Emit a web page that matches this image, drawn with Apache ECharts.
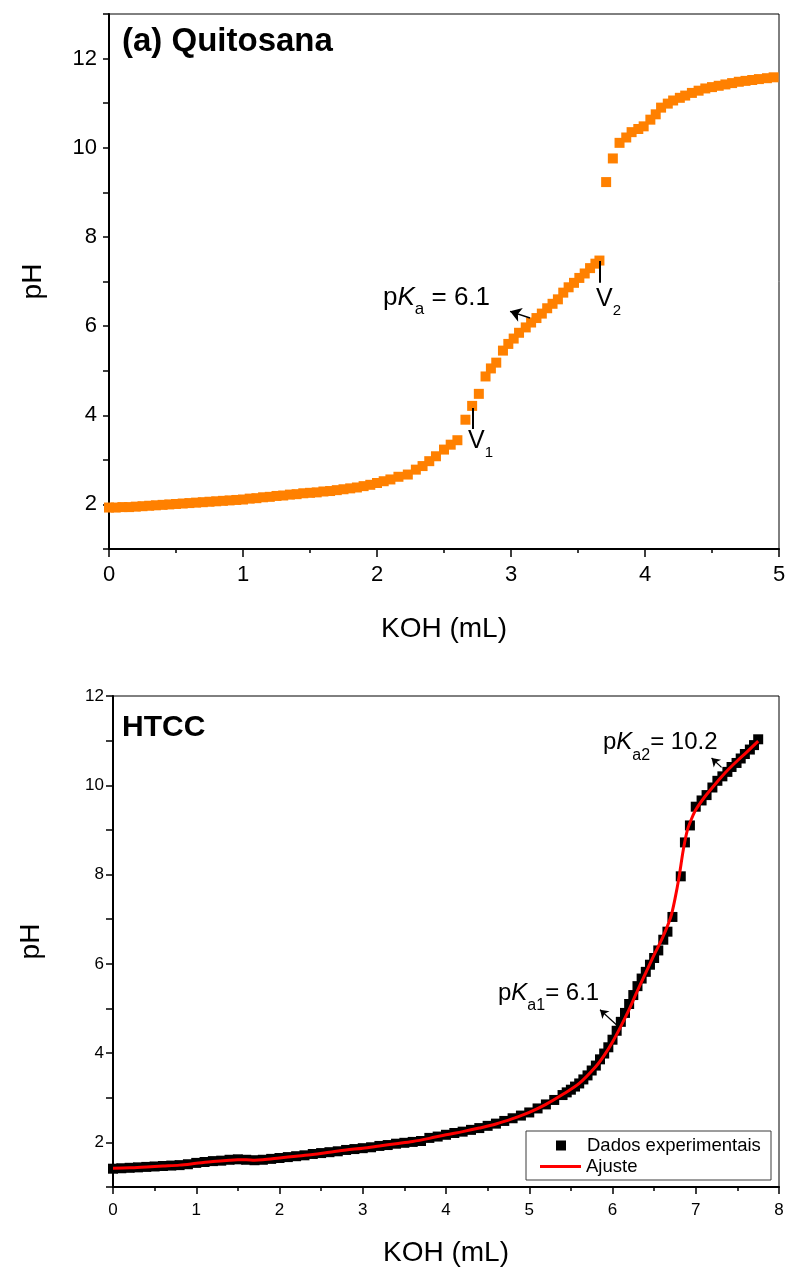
<!DOCTYPE html>
<html><head><meta charset="utf-8">
<style>html,body{margin:0;padding:0;background:#fff}#c{width:789px;height:1275px}</style>
<script src="https://cdn.jsdelivr.net/npm/echarts@6/dist/echarts.min.js"></script>
</head><body><div id="c"></div>
<script>
// ---- (a) Quitosana ----
const topKOH = [0.00,0.05,0.10,0.15,0.20,0.25,0.30,0.35,0.40,0.45,0.50,0.55,0.60,0.65,0.70,0.75,0.80,0.85,0.90,0.95,
  1.00,1.05,1.10,1.15,1.20,1.25,1.30,1.35,1.40,1.45,1.50,1.55,1.60,1.65,1.70,1.75,1.80,1.85,1.90,1.95,
  2.00,2.05,2.10,2.16,2.23,2.29,2.34,2.39,2.44,2.50,2.55,2.60,2.66,2.71,2.76,2.81,2.85,2.89,2.94,2.98,
  3.02,3.06,3.11,3.15,3.19,3.23,3.27,3.31,3.35,3.39,3.43,3.47,3.51,3.55,3.59,3.63,3.66,
  3.71,3.76,3.81,3.86,3.90,3.95,3.99,4.04,4.08,4.12,4.17,4.21,4.26,4.30,4.35,4.40,4.45,4.50,4.55,4.60,
  4.65,4.70,4.75,4.80,4.85,4.91,4.96];
const topPH = [1.93,1.93,1.94,1.94,1.95,1.96,1.97,1.98,1.99,2.00,2.01,2.02,2.03,2.04,2.05,2.06,2.07,2.08,2.09,2.10,
  2.11,2.13,2.14,2.16,2.17,2.19,2.20,2.22,2.23,2.25,2.26,2.27,2.29,2.30,2.32,2.34,2.36,2.38,2.41,2.44,
  2.48,2.52,2.56,2.62,2.67,2.78,2.86,2.97,3.08,3.23,3.34,3.44,3.90,4.21,4.48,4.87,5.05,5.18,5.45,5.60,
  5.72,5.85,5.97,6.08,6.18,6.28,6.40,6.50,6.60,6.75,6.87,6.97,7.08,7.18,7.30,7.40,7.47,
  9.23,9.76,10.11,10.23,10.35,10.42,10.48,10.63,10.75,10.90,10.99,11.06,11.12,11.17,11.23,11.28,11.33,11.36,11.39,11.42,
  11.45,11.48,11.50,11.52,11.54,11.56,11.58];

// ---- HTCC ----
const htccKOH = [0.0,0.1,0.2,0.3,0.4,0.5,0.6,0.7,0.8,0.9,1.0,1.1,1.2,1.3,1.4,1.5,1.6,1.7,1.8,1.9,
  2.0,2.1,2.2,2.3,2.4,2.5,2.6,2.7,2.8,2.9,3.0,3.1,3.2,3.3,3.4,3.5,3.6,3.7,3.8,3.9,
  4.0,4.1,4.2,4.3,4.4,4.5,4.6,4.7,4.8,4.9,5.0,5.1,5.2,5.3,5.4,
  5.45,5.50,5.55,5.60,5.65,5.70,5.75,5.80,5.85,5.90,5.95,6.00,6.05,6.10,6.15,6.20,6.25,6.30,6.35,6.40,
  6.45,6.50,6.55,6.61,6.66,6.72,6.82,6.87,6.93,7.00,7.07,7.13,7.20,7.26,7.32,7.38,7.43,7.49,7.54,7.59,
  7.65,7.70,7.75];
const htccPH = [1.41,1.42,1.43,1.44,1.45,1.46,1.47,1.48,1.49,1.51,1.54,1.56,1.58,1.59,1.61,1.62,1.61,1.60,1.61,1.63,
  1.65,1.67,1.69,1.71,1.74,1.76,1.78,1.80,1.83,1.85,1.87,1.89,1.92,1.94,1.97,1.99,2.01,2.03,2.10,2.13,
  2.17,2.21,2.24,2.28,2.32,2.37,2.42,2.48,2.54,2.60,2.67,2.76,2.85,2.95,3.06,
  3.12,3.18,3.25,3.32,3.41,3.50,3.61,3.72,3.86,3.99,4.13,4.30,4.50,4.70,4.90,5.10,5.30,5.50,5.67,5.82,
  5.98,6.13,6.30,6.54,6.72,7.05,7.96,8.72,9.10,9.52,9.66,9.78,9.95,10.10,10.20,10.30,10.41,10.50,10.60,10.70,
  10.80,10.90,11.03];
const fitKOH = [0.0,0.2,0.4,0.6,0.8,1.0,1.2,1.4,1.5,1.6,1.7,1.8,2.0,2.2,2.4,2.6,2.8,3.0,3.2,3.4,3.6,3.8,
  4.0,4.2,4.4,4.6,4.8,5.0,5.2,5.4,5.6,5.8,5.9,6.0,6.1,6.2,6.3,6.4,6.5,6.6,6.7,6.75,6.8,6.85,6.9,6.95,
  7.0,7.1,7.2,7.3,7.4,7.5,7.6,7.7,7.75];
const fitPH = [1.42,1.43,1.45,1.47,1.49,1.53,1.57,1.60,1.61,1.61,1.60,1.61,1.65,1.69,1.73,1.78,1.83,1.87,1.92,1.97,2.02,2.09,
  2.17,2.24,2.32,2.41,2.53,2.67,2.85,3.07,3.32,3.70,3.95,4.25,4.60,4.98,5.40,5.80,6.20,6.58,7.05,7.45,7.95,8.55,9.00,9.25,
  9.45,9.72,9.95,10.17,10.37,10.55,10.72,10.90,10.99];

const xTicksTop = {min: 0, max: 5, interval: 1};
const yTicksTop = {min: 1, max: 13, interval: 1};
const xTicksBot = {min: 0, max: 8, interval: 1};
const yTicksBot = {min: 1, max: 12, interval: 1};

const FONT = 'Liberation Sans, Arial, Helvetica, sans-serif';
const pairs = (a, b) => a.map((v, i) => [v, b[i]]);
const evenLabel = v => (Math.round(v) % 2 === 0 ? String(v) : '');

function axisBase(fs) {
  return {
    type: 'value',
    axisLine: {show: true, onZero: false, lineStyle: {color: '#000', width: 2}},
    axisTick: {show: true, inside: false, length: 7, lineStyle: {color: '#000', width: 1.5}},
    splitLine: {show: false},
    axisLabel: {color: '#000', fontSize: fs, fontFamily: FONT, showMinLabel: true, showMaxLabel: true, hideOverlap: false},
    nameLocation: 'middle',
    nameTextStyle: {color: '#000', fontSize: 28, fontFamily: FONT},
    nameMoveOverlap: false
  };
}
function merge(a, b) {
  const o = Object.assign({}, a);
  for (const k in b) {
    if (b[k] && typeof b[k] === 'object' && !Array.isArray(b[k]) && a[k] && typeof a[k] === 'object') o[k] = merge(a[k], b[k]);
    else o[k] = b[k];
  }
  return o;
}

const chart = echarts.init(document.getElementById('c'));
const option = {
  animation: false,
  backgroundColor: '#fff',
  grid: [
    {left: 109, top: 14, width: 670, height: 535, show: true, borderColor: '#000', borderWidth: 1, containLabel: false, outerBoundsMode: 'none'},
    {left: 113, top: 696, width: 666, height: 491, show: true, borderColor: '#000', borderWidth: 1, containLabel: false, outerBoundsMode: 'none'}
  ],
  xAxis: [
    merge(axisBase(22), Object.assign({gridIndex: 0, name: 'KOH (mL)', nameGap: 66,
      axisTick: {length: 8}, minorTick: {show: true, splitNumber: 2, length: 4, lineStyle: {color: '#000', width: 1.5}},
      axisLabel: {margin: 15}}, xTicksTop)),
    merge(axisBase(17), Object.assign({gridIndex: 1, name: 'KOH (mL)', nameGap: 52,
      axisTick: {length: 7}, minorTick: {show: true, splitNumber: 2, length: 4, lineStyle: {color: '#000', width: 1.5}},
      axisLabel: {margin: 15}}, xTicksBot))
  ],
  yAxis: [
    merge(axisBase(22), Object.assign({gridIndex: 0, name: 'pH', nameGap: 62,
      axisTick: {length: 6}, axisLabel: {margin: 12, formatter: evenLabel}}, yTicksTop)),
    merge(axisBase(17), Object.assign({gridIndex: 1, name: 'pH', nameGap: 68,
      axisTick: {length: 7}, axisLabel: {margin: 9, formatter: evenLabel}}, yTicksBot))
  ],
  legend: [
    {data: [{name: 'Dados experimentais', icon: 'rect'}], left: 556, top: 1136, padding: 0, itemWidth: 10, itemHeight: 10,
      selectedMode: false, textStyle: {color: '#000', fontSize: 18.5, fontFamily: FONT, padding: [0, 0, 0, 16]}},
    {data: [{name: 'Ajuste', icon: 'rect'}], left: 540, top: 1157, padding: 0, itemWidth: 41, itemHeight: 3,
      selectedMode: false, textStyle: {color: '#000', fontSize: 18.5, fontFamily: FONT}}
  ],
  series: [
    {
      type: 'scatter', name: 'Quitosana', xAxisIndex: 0, yAxisIndex: 0,
      symbol: 'rect', symbolSize: 10, itemStyle: {color: '#FF8000', opacity: 1},
      data: pairs(topKOH, topPH), silent: true,
      markLine: {
        silent: true, symbol: ['none', 'none'], label: {show: false}, animation: false,
        lineStyle: {color: '#000', width: 2, type: 'solid', opacity: 1},
        emphasis: {disabled: true},
        data: [
          [{coord: [2.714, 4.16]}, {coord: [2.714, 3.69]}],
          [{coord: [3.659, 7.46]}, {coord: [3.659, 6.97]}],
          [{coord: [3.142, 6.18], symbol: 'none'}, {coord: [2.993, 6.33], symbol: 'arrow', symbolSize: 11, lineStyle: {width: 1.5}}]
        ]
      }
    },
    {
      type: 'scatter', name: 'Dados experimentais', xAxisIndex: 1, yAxisIndex: 1,
      symbol: 'rect', symbolSize: 10, itemStyle: {color: '#000', opacity: 1},
      data: pairs(htccKOH, htccPH), silent: true,
      markLine: {
        silent: true, symbol: ['none', 'arrow'], symbolSize: 8, label: {show: false}, animation: false,
        lineStyle: {color: '#000', width: 1.2, type: 'solid', opacity: 1},
        emphasis: {disabled: true},
        data: [
          [{coord: [6.05, 4.63]}, {coord: [5.85, 4.97]}],
          [{coord: [7.31, 10.40]}, {coord: [7.19, 10.61]}]
        ]
      }
    },
    {
      type: 'line', name: 'Ajuste', xAxisIndex: 1, yAxisIndex: 1, z: 5,
      data: pairs(fitKOH, fitPH), showSymbol: false, symbol: 'none', smooth: 0.3,
      lineStyle: {color: '#FF0000', width: 3}, itemStyle: {color: '#FF0000'}, silent: true
    }
  ],
  graphic: [
    {type: 'rect', z: 3, shape: {x: 526, y: 1131, width: 245, height: 49}, style: {fill: '#fff', stroke: '#3a3a3a', lineWidth: 1}, silent: true},
    {type: 'text', x: 122, y: 42, z: 10, silent: true, style: {text: '(a) Quitosana', fontSize: 33, fontWeight: 'bold', fontFamily: FONT, fill: '#000', verticalAlign: 'middle', textVerticalAlign: 'middle'}},
    {type: 'text', x: 122, y: 728, z: 10, silent: true, style: {text: 'HTCC', fontSize: 30, fontWeight: 'bold', fontFamily: FONT, fill: '#000', verticalAlign: 'middle', textVerticalAlign: 'middle'}},
    {type: 'text', x: 383, y: 298, z: 10, silent: true, style: {
      text: '{p|p}{k|K}{s|a}{n| = 6.1}', fill: '#000', fontFamily: FONT, verticalAlign: 'middle', textVerticalAlign: 'middle',
      rich: {
        p: {fontSize: 26, lineHeight: 40, fontFamily: FONT, fill: '#000'},
        k: {fontSize: 26, lineHeight: 40, fontStyle: 'italic', fontFamily: FONT, fill: '#000'},
        s: {fontSize: 17, lineHeight: 17, verticalAlign: 'bottom', fontFamily: FONT, fill: '#000'},
        n: {fontSize: 26, lineHeight: 40, fontFamily: FONT, fill: '#000'}
      }}},
    {type: 'text', x: 468, y: 441, z: 10, silent: true, style: {
      text: '{v|V}{s|1}', fill: '#000', verticalAlign: 'middle', textVerticalAlign: 'middle',
      rich: {v: {fontSize: 25, lineHeight: 38, fontFamily: FONT, fill: '#000'}, s: {fontSize: 15, lineHeight: 15, verticalAlign: 'bottom', fontFamily: FONT, fill: '#000'}}}},
    {type: 'text', x: 596, y: 299, z: 10, silent: true, style: {
      text: '{v|V}{s|2}', fill: '#000', verticalAlign: 'middle', textVerticalAlign: 'middle',
      rich: {v: {fontSize: 25, lineHeight: 38, fontFamily: FONT, fill: '#000'}, s: {fontSize: 15, lineHeight: 15, verticalAlign: 'bottom', fontFamily: FONT, fill: '#000'}}}},
    {type: 'text', x: 498, y: 993, z: 10, silent: true, style: {
      text: '{p|p}{k|K}{s|a1}{n|= 6.1}', fill: '#000', verticalAlign: 'middle', textVerticalAlign: 'middle',
      rich: {
        p: {fontSize: 24, lineHeight: 42, fontFamily: FONT, fill: '#000'},
        k: {fontSize: 24, lineHeight: 42, fontStyle: 'italic', fontFamily: FONT, fill: '#000'},
        s: {fontSize: 16, lineHeight: 16, verticalAlign: 'bottom', fontFamily: FONT, fill: '#000'},
        n: {fontSize: 24, lineHeight: 42, fontFamily: FONT, fill: '#000'}
      }}},
    {type: 'text', x: 603, y: 742, z: 10, silent: true, style: {
      text: '{p|p}{k|K}{s|a2}{n|= 10.2}', fill: '#000', verticalAlign: 'middle', textVerticalAlign: 'middle',
      rich: {
        p: {fontSize: 24, lineHeight: 44, fontFamily: FONT, fill: '#000'},
        k: {fontSize: 24, lineHeight: 44, fontStyle: 'italic', fontFamily: FONT, fill: '#000'},
        s: {fontSize: 16, lineHeight: 16, verticalAlign: 'bottom', fontFamily: FONT, fill: '#000'},
        n: {fontSize: 24, lineHeight: 44, fontFamily: FONT, fill: '#000'}
      }}}
  ]
};
chart.setOption(option);
</script>
</body></html>
